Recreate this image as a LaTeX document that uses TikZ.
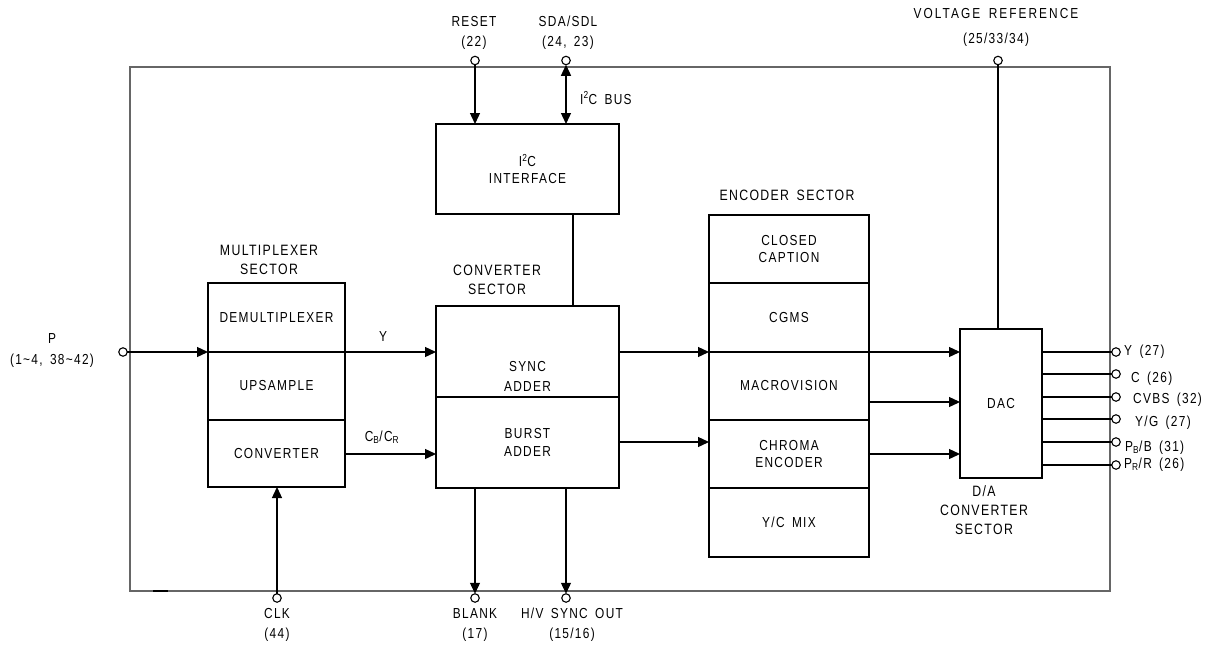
\documentclass[tikz,border=0pt]{standalone}
\usepackage{fontspec}
\setmainfont{Liberation Sans}[LetterSpace=9,FakeStretch=0.82,WordSpace=1.6]
\usetikzlibrary{arrows.meta,positioning,calc}

\begin{document}
\begin{tikzpicture}[x=1pt,y=-1pt,>={Triangle[length=11pt,width=10pt]},
  font=\fontsize{14.5}{18}\selectfont,
  wire/.style={line width=1.3pt},
  blk/.style={draw,line width=1.3pt,align=center,inner sep=0pt,outer sep=0pt},
  pin/.style={draw,circle,fill=white,line width=1.1pt,minimum size=8.5pt,inner sep=0pt,outer sep=0pt},
  lbl/.style={align=center,inner sep=0pt},
  sec/.style={lbl,font=\fontsize{15}{19}\selectfont},
  outl/.style={anchor=west,inner sep=0pt}]
\useasboundingbox (0,0) rectangle (1214,645);
%%% chip outline
\draw[line width=1.3pt,black!60] (130,67) rectangle (1110,591);
\draw[line width=2.5pt] (153,591) -- (168,591);

%%% multiplexer sector
\node[blk,minimum width=137pt,minimum height=69pt,anchor=north west] (demux) at (208,283) {DEMULTIPLEXER};
\node[blk,minimum width=137pt,minimum height=68pt,anchor=north] (upsmp) at (demux.south) {UPSAMPLE};
\node[blk,minimum width=137pt,minimum height=67pt,anchor=north] (conv) at (upsmp.south) {CONVERTER};
\node[sec] (muxsec) at (269,259.5) {MULTIPLEXER\\SECTOR};

%%% converter sector
\node[blk,minimum width=183pt,minimum height=91pt,anchor=north west] (sync) at (436,306) {};
\node[lbl] (synctxt) at (527.5,376) {SYNC\\[2pt]ADDER};
\node[blk,minimum width=183pt,minimum height=91pt,anchor=north] (burst) at (sync.south) {BURST\\ADDER};
\node[sec] (convsec) at (497,280) {CONVERTER\\SECTOR};
\node[blk,minimum width=183pt,minimum height=90pt,anchor=north west] (i2c) at (436,124) {I\textsuperscript{2}C\\[-1pt]INTERFACE};

%%% encoder sector
\node[blk,minimum width=160pt,minimum height=68pt,anchor=north west] (cc) at (709,215) {CLOSED\\[-1pt]CAPTION};
\node[blk,minimum width=160pt,minimum height=69pt,anchor=north] (cgms) at (cc.south) {CGMS};
\node[blk,minimum width=160pt,minimum height=68pt,anchor=north] (macro) at (cgms.south) {MACROVISION};
\node[blk,minimum width=160pt,minimum height=68pt,anchor=north] (chroma) at (macro.south) {CHROMA\\[-1pt]ENCODER};
\node[blk,minimum width=160pt,minimum height=69pt,anchor=north] (ycmix) at (chroma.south) {Y/C MIX};
\node[sec] (encsec) at (787,195) {ENCODER SECTOR};

%%% D/A converter sector
\node[blk,minimum width=82pt,minimum height=149pt,anchor=north west] (dac) at (960,329) {DAC};
\node[sec] (dasec) at (984,510.5) {D/A\\CONVERTER\\SECTOR};

%%% pins
\node[pin] (pP) at (123,352) {};
\node[pin] (pRst) at (475,60.5) {};
\node[pin] (pSda) at (566,60.5) {};
\node[pin] (pVref) at (998,60.5) {};
\node[pin] (pClk) at (277,598) {};
\node[pin] (pBlank) at (475,598) {};
\node[pin] (pSync) at (566,598) {};

\node[lbl] (lP) at (52,351) {P\\[3pt](1\textasciitilde4, 38\textasciitilde42)};
\node[lbl] (lRst) at (474,33) {RESET\\[2pt](22)};
\node[lbl] (lSda) at (568,33) {SDA/SDL\\[2pt](24, 23)};
\node[lbl] (lVref) at (996,27.5) {\addfontfeature{LetterSpace=14}VOLTAGE REFERENCE\\[7pt](25/33/34)};
\node[lbl] (lClk) at (277,625) {CLK\\[2pt](44)};
\node[lbl] (lBlank) at (475,625) {BLANK\\[2pt](17)};
\node[lbl] (lSync) at (572,625) {H/V SYNC OUT\\[2pt](15/16)};
\node[outl] (lBus) at (580,98) {I\textsuperscript{2}C BUS};

%%% connections
\draw[wire,->] (pP) -- (demux.south west);
\draw[wire,->] (demux.south east) -- (demux.south east -| sync.west);
\node[lbl] (lY) at (383,337) {Y};
\draw[wire,->] ([yshift=-0.5pt]conv.east) -- ([yshift=-0.5pt]conv.east -| burst.west);
\node[lbl] (lC) at (382,437) {C\textsubscript{B}/C\textsubscript{R}};
\draw[wire,->] (pRst) -- (pRst |- i2c.north);
\draw[wire,<->] (pSda) -- (pSda |- i2c.north);
\draw[wire] ([xshift=45.5pt]i2c.south) -- ([xshift=45.5pt]sync.north);
\draw[wire,->] (sync.east |- cgms.south) -- (cgms.south west);
\draw[wire,->] ([yshift=0.5pt]burst.east) -- ([yshift=0.5pt]burst.east -| chroma.west);
\draw[wire,->] (cgms.south east) -- (cgms.south east -| dac.west);
\draw[wire,->] ([yshift=-16pt]macro.east) -- ([yshift=-16pt]macro.east -| dac.west);
\draw[wire,->] (chroma.east) -- (chroma.east -| dac.west);
\draw[wire] (pVref) -- (pVref |- dac.north);
\draw[wire,->] (pClk) -- (pClk |- conv.south);
\draw[wire,->] (pBlank |- burst.south) -- (pBlank);
\draw[wire,->] (pSync |- burst.south) -- (pSync);

%%% DAC outputs
\foreach \k/\yy/\tx/\ty/\txt in {1/352/1124/352/{Y (27)},2/374/1131/379/{C (26)},3/397/1133/400/{CVBS (32)},4/419/1135/423/{Y/G (27)},5/442/1125/448/{P\textsubscript{B}/B (31)},6/465/1124/465/{P\textsubscript{R}/R (26)}}{
  \node[pin] (out\k) at (1116,\yy) {};
  \draw[wire] (dac.east |- out\k) -- (out\k);
  \node[outl] (lout\k) at (\tx,\ty) {\txt};
}
\end{tikzpicture}
\end{document}
